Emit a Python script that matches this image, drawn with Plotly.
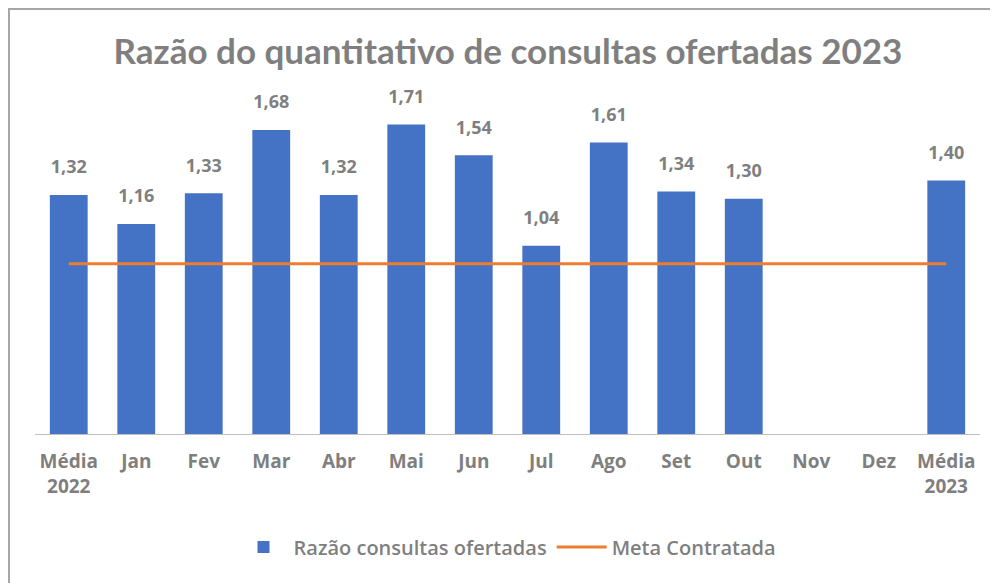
import plotly.graph_objects as go

categories = ["Média<br>2022", "Jan", "Fev", "Mar", "Abr", "Mai", "Jun", "Jul",
              "Ago", "Set", "Out", "Nov", "Dez", "Média<br>2023"]
razao = [1.32, 1.16, 1.33, 1.68, 1.32, 1.71, 1.54, 1.04, 1.61, 1.34, 1.30, None, None, 1.40]
meta = [0.94] * len(categories)

OFF = 8  # page body margin
W, H = 998 - OFF, 583 - OFF
ML, MR, MT, MB = 27, 18, 64, 149
pw = W - ML - MR
ph = H - MT - MB
grey = "#7f7f7f"

fig = go.Figure()
fig.add_trace(go.Bar(
    x=categories, y=razao, name="Razão consultas ofertadas",
    marker=dict(color="#4472C4", line=dict(width=0)),
))
fig.add_trace(go.Scatter(
    x=categories, y=meta, name="Meta Contratada", mode="lines",
    line=dict(color="#ED7D31", width=3),
))
# data labels for the bars
fig.add_trace(go.Scatter(
    x=categories, y=razao, mode="markers+text", showlegend=False, hoverinfo="skip",
    marker=dict(size=26, opacity=0),
    texttemplate="<b>%{y:.2f}</b>", textposition="top center", cliponaxis=False,
    textfont=dict(family="Open Sans", size=18, color=grey),
))

def px(xr):
    return (xr - OFF - ML) / pw

def py(yr):
    return (H - MB - (yr - OFF)) / ph

fig.update_layout(
    width=W, height=H, separators=",.",
    margin=dict(l=ML, r=MR, t=MT, b=MB),
    paper_bgcolor="white", plot_bgcolor="white",
    title=dict(text="<b>Razão do quantitativo de consultas ofertadas 2023</b>",
               x=px(508), xanchor="center", xref="paper",
               y=(H - (52 - OFF)) / H, yanchor="middle",
               font=dict(family="Lato", size=35, color=grey)),
    bargap=0.44,
    xaxis=dict(showline=True, linecolor="#bfbfbf", linewidth=1, ticks="",
               range=[-0.5, len(categories) - 0.5], autorange=False,
               ticklabelstandoff=10,
               tickfont=dict(family="Open Sans", size=19, color=grey, weight="bold"),
               fixedrange=True),
    yaxis=dict(range=[0, 2.0], visible=False, showgrid=False),
    legend=dict(orientation="h", x=0.5, xanchor="center", y=py(547), yanchor="middle",
                font=dict(family="Open Sans", size=20, color=grey, weight=600),
                itemwidth=50, traceorder="normal"),
    font=dict(family="Open Sans", color=grey),
    shapes=[
        dict(type="line", xref="paper", yref="paper", x0=px(8), x1=px(998), y0=py(9), y1=py(9),
             line=dict(color="#a6a6a6", width=2)),
        dict(type="line", xref="paper", yref="paper", x0=px(9), x1=px(9), y0=py(9), y1=py(583),
             line=dict(color="#a6a6a6", width=2)),
    ],
)

fig.write_html("out.html")
